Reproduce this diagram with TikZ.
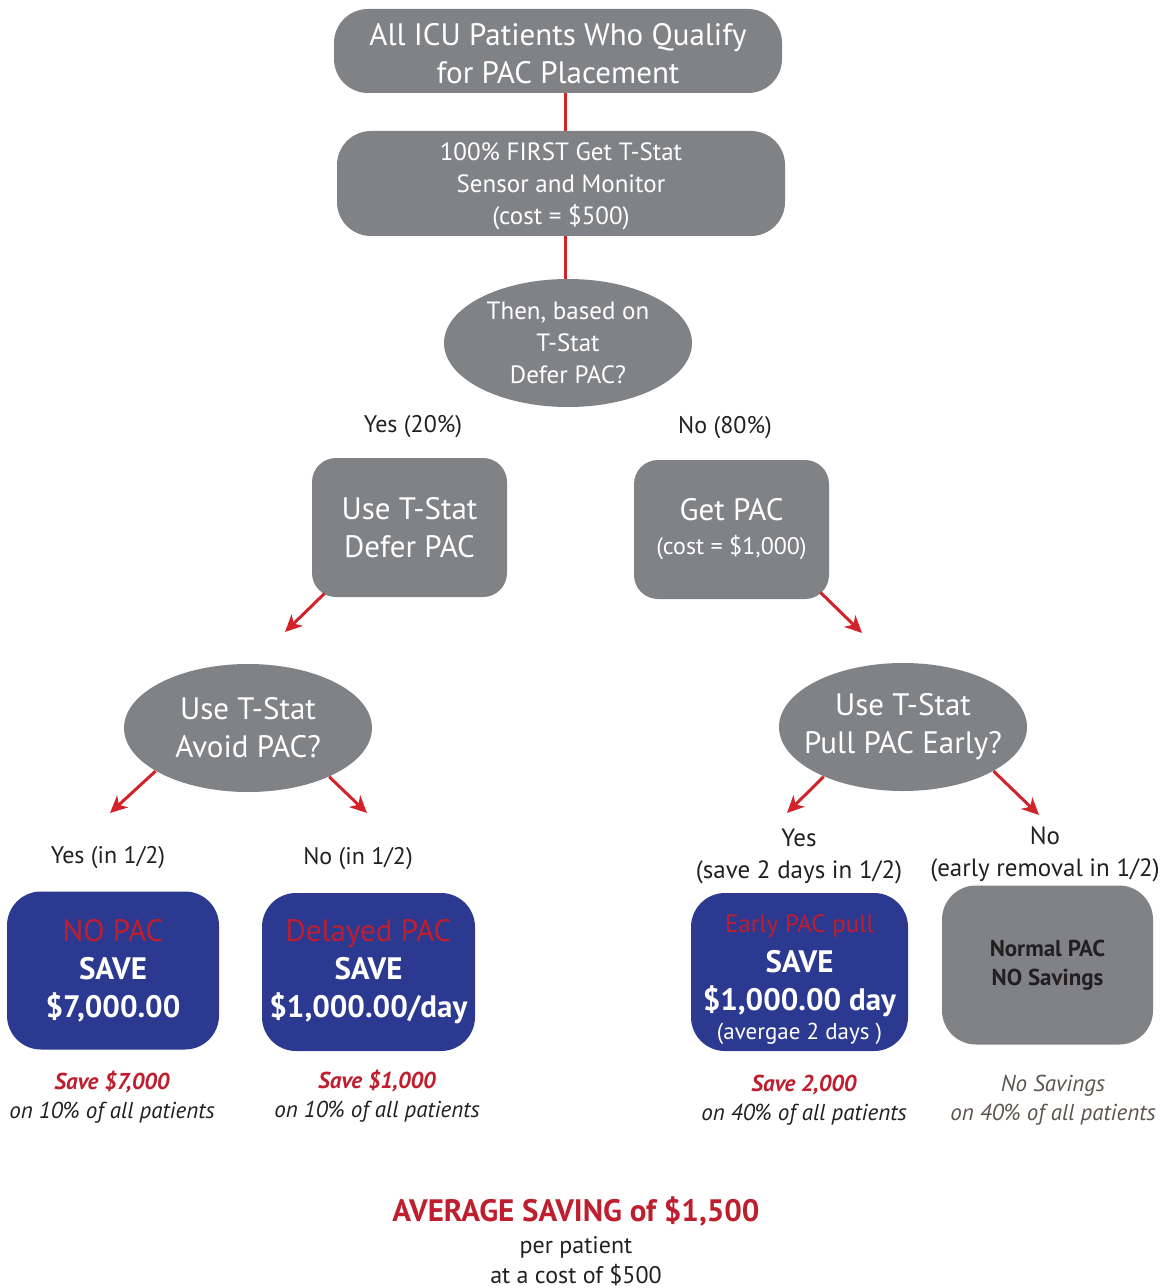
\documentclass[tikz,border=0pt]{standalone}
\usepackage{fontspec}
\setmainfont{PT Sans}
\usetikzlibrary{shapes.geometric,arrows.meta}

\definecolor{boxgray}{HTML}{808285}
\definecolor{saveblue}{HTML}{2B3990}
\definecolor{textred}{HTML}{BE1E2D}
\definecolor{arrowred}{HTML}{D2232A}
\definecolor{notegray}{HTML}{5E5450}
\definecolor{darktext}{HTML}{231F20}

\newcommand{\bigtxt}{\fontsize{15.5}{19}\selectfont}
\newcommand{\midtxt}{\fontsize{12.5}{16}\selectfont}
\newcommand{\smltxt}{\fontsize{11.5}{14.5}\selectfont}

\tikzset{
  graybox/.style={fill=boxgray, text=white, rounded corners=17pt, align=center, inner sep=0pt},
  decision/.style={ellipse, fill=boxgray, text=white, align=center, inner xsep=-6pt, inner ysep=0pt,
    minimum width=124pt, minimum height=64pt},
  bluebox/.style={fill=saveblue, text=white, rounded corners=17pt, align=center, inner sep=0pt,
    minimum height=79pt},
  link/.style={arrowred, line width=1.5pt},
  arr/.style={arrowred, line width=1.5pt, -{Stealth[length=8.5pt,width=8pt,inset=2.5pt]}},
  branch/.style={text=darktext, font=\fontsize{12}{16}\selectfont, align=center},
  note/.style={text=darktext, font=\smltxt\itshape, align=center},
}

\begin{document}
\begin{tikzpicture}[x=0.5pt,y=-0.5pt]
\useasboundingbox (0,0) rectangle (1169,1288);

% top of the tree
\node[graybox, minimum width=224pt, minimum height=42pt, font=\bigtxt] (top) at (558,51)
  {\rule{0pt}{14pt}All ICU Patients Who Qualify\\for PAC Placement};
\node[graybox, minimum width=224pt, minimum height=52.5pt, font=\midtxt] (sensor) at (561,183.5)
  {\rule{0pt}{12pt}100\% FIRST Get T-Stat\\Sensor and Monitor\\(cost = \$500)};
\node[decision, font=\midtxt] (tstat) at (568,343) {Then, based on\\T-Stat\\Defer PAC?};

\draw[link] ([xshift=3.5pt]top.south) -- ([xshift=2pt]sensor.north);
\draw[link] ([xshift=2pt]sensor.south) -- ([xshift=-1.5pt]tstat.north);

\node[branch] (yes20) at (413,427) {Yes (20\%)};
\node[branch] (no80) at (725,428) {No (80\%)};

% second level
\node[graybox, rounded corners=12pt, minimum width=97.5pt, minimum height=69.5pt, font=\bigtxt] (defer) at (409.5,527.5)
  {Use T-Stat\\[0pt]Defer PAC};
\node[graybox, rounded corners=12pt, minimum width=97.5pt, minimum height=69.5pt, font=\bigtxt] (getpac) at (731.5,529.5)
  {Get PAC\\[-2pt]{\fontsize{12}{14}\selectfont(cost = \$1,000)}};

\coordinate (a1) at (285,632);
\coordinate (a2) at (862,633);
\draw[arr] ([shift={(13,-4)}]defer.south west) -- (a1);
\draw[arr] ([shift={(-9,-7)}]getpac.south east) -- (a2);

\node[decision, font=\bigtxt] (avoid) at (248,728) {Use T-Stat\\Avoid PAC?};
\node[decision, font=\bigtxt] (pull) at (903,727) {Use T-Stat\\Pull PAC Early?};

\coordinate (b1) at (110,813);
\coordinate (b2) at (367,813);
\coordinate (c1) at (787,813);
\coordinate (c2) at (1039,815);
\draw[arr] (avoid.205) -- (b1);
\draw[arr] (avoid.329) -- (b2);
\draw[arr] (pull.212) -- (c1);
\draw[arr] (pull.334) -- (c2);

\node[branch] (yeshalf) at (108,858) {Yes (in 1/2)};
\node[branch] (nohalf) at (358,859) {No (in 1/2)};
\node[branch, font=\midtxt] (yesearly) at (799,856) {Yes\\(save 2 days in 1/2)};
\node[branch, font=\midtxt] (noearly) at (1045,854) {No\\(early removal in 1/2)};

% outcomes
\node[bluebox, minimum width=106pt, font=\bigtxt] (nopac) at (113,970.5)
  {\textcolor{textred}{NO PAC}\\\textbf{SAVE}\\\textbf{\$7,000.00}};
\node[bluebox, minimum width=106.5pt, font=\bigtxt] (delayed) at (368.5,972)
  {\textcolor{textred}{Delayed PAC}\\\textbf{SAVE}\\\textbf{\$1,000.00/day}};
\node[bluebox, minimum width=108.5pt, font=\bigtxt] (early) at (799.5,972)
  {{\midtxt\rule{0pt}{17pt}\textcolor{textred}{Early PAC pull}}\\[1pt]\textbf{SAVE}\\\textbf{\$1,000.00 day}\\[-4.5pt]{\smltxt(avergae 2 days )}};
\node[graybox, minimum width=105.5pt, minimum height=79.5pt, text=darktext, font=\smltxt\bfseries] (normal) at (1047.5,965)
  {Normal PAC\\NO Savings};

% savings per branch
\node[note] (n1) at (112,1097.5) {\textcolor{textred}{\bfseries Save \$7,000}\\on 10\% of all patients};
\node[note] (n2) at (377,1096.5) {\textcolor{textred}{\bfseries Save \$1,000}\\on 10\% of all patients};
\node[note] (n3) at (804,1100.5) {\textcolor{textred}{\bfseries Save 2,000}\\on 40\% of all patients};
\node[note, text=notegray] (n4) at (1053,1100.5) {No Savings\\on 40\% of all patients};

% bottom line
\node[text=darktext, align=center, font=\fontsize{12}{15}\selectfont] (avg) at (576,1241)
  {{\bigtxt\bfseries\textcolor{textred}{AVERAGE SAVING of \$1,500}}\\[1pt]per patient\\at a cost of \$500};
\end{tikzpicture}
\end{document}
